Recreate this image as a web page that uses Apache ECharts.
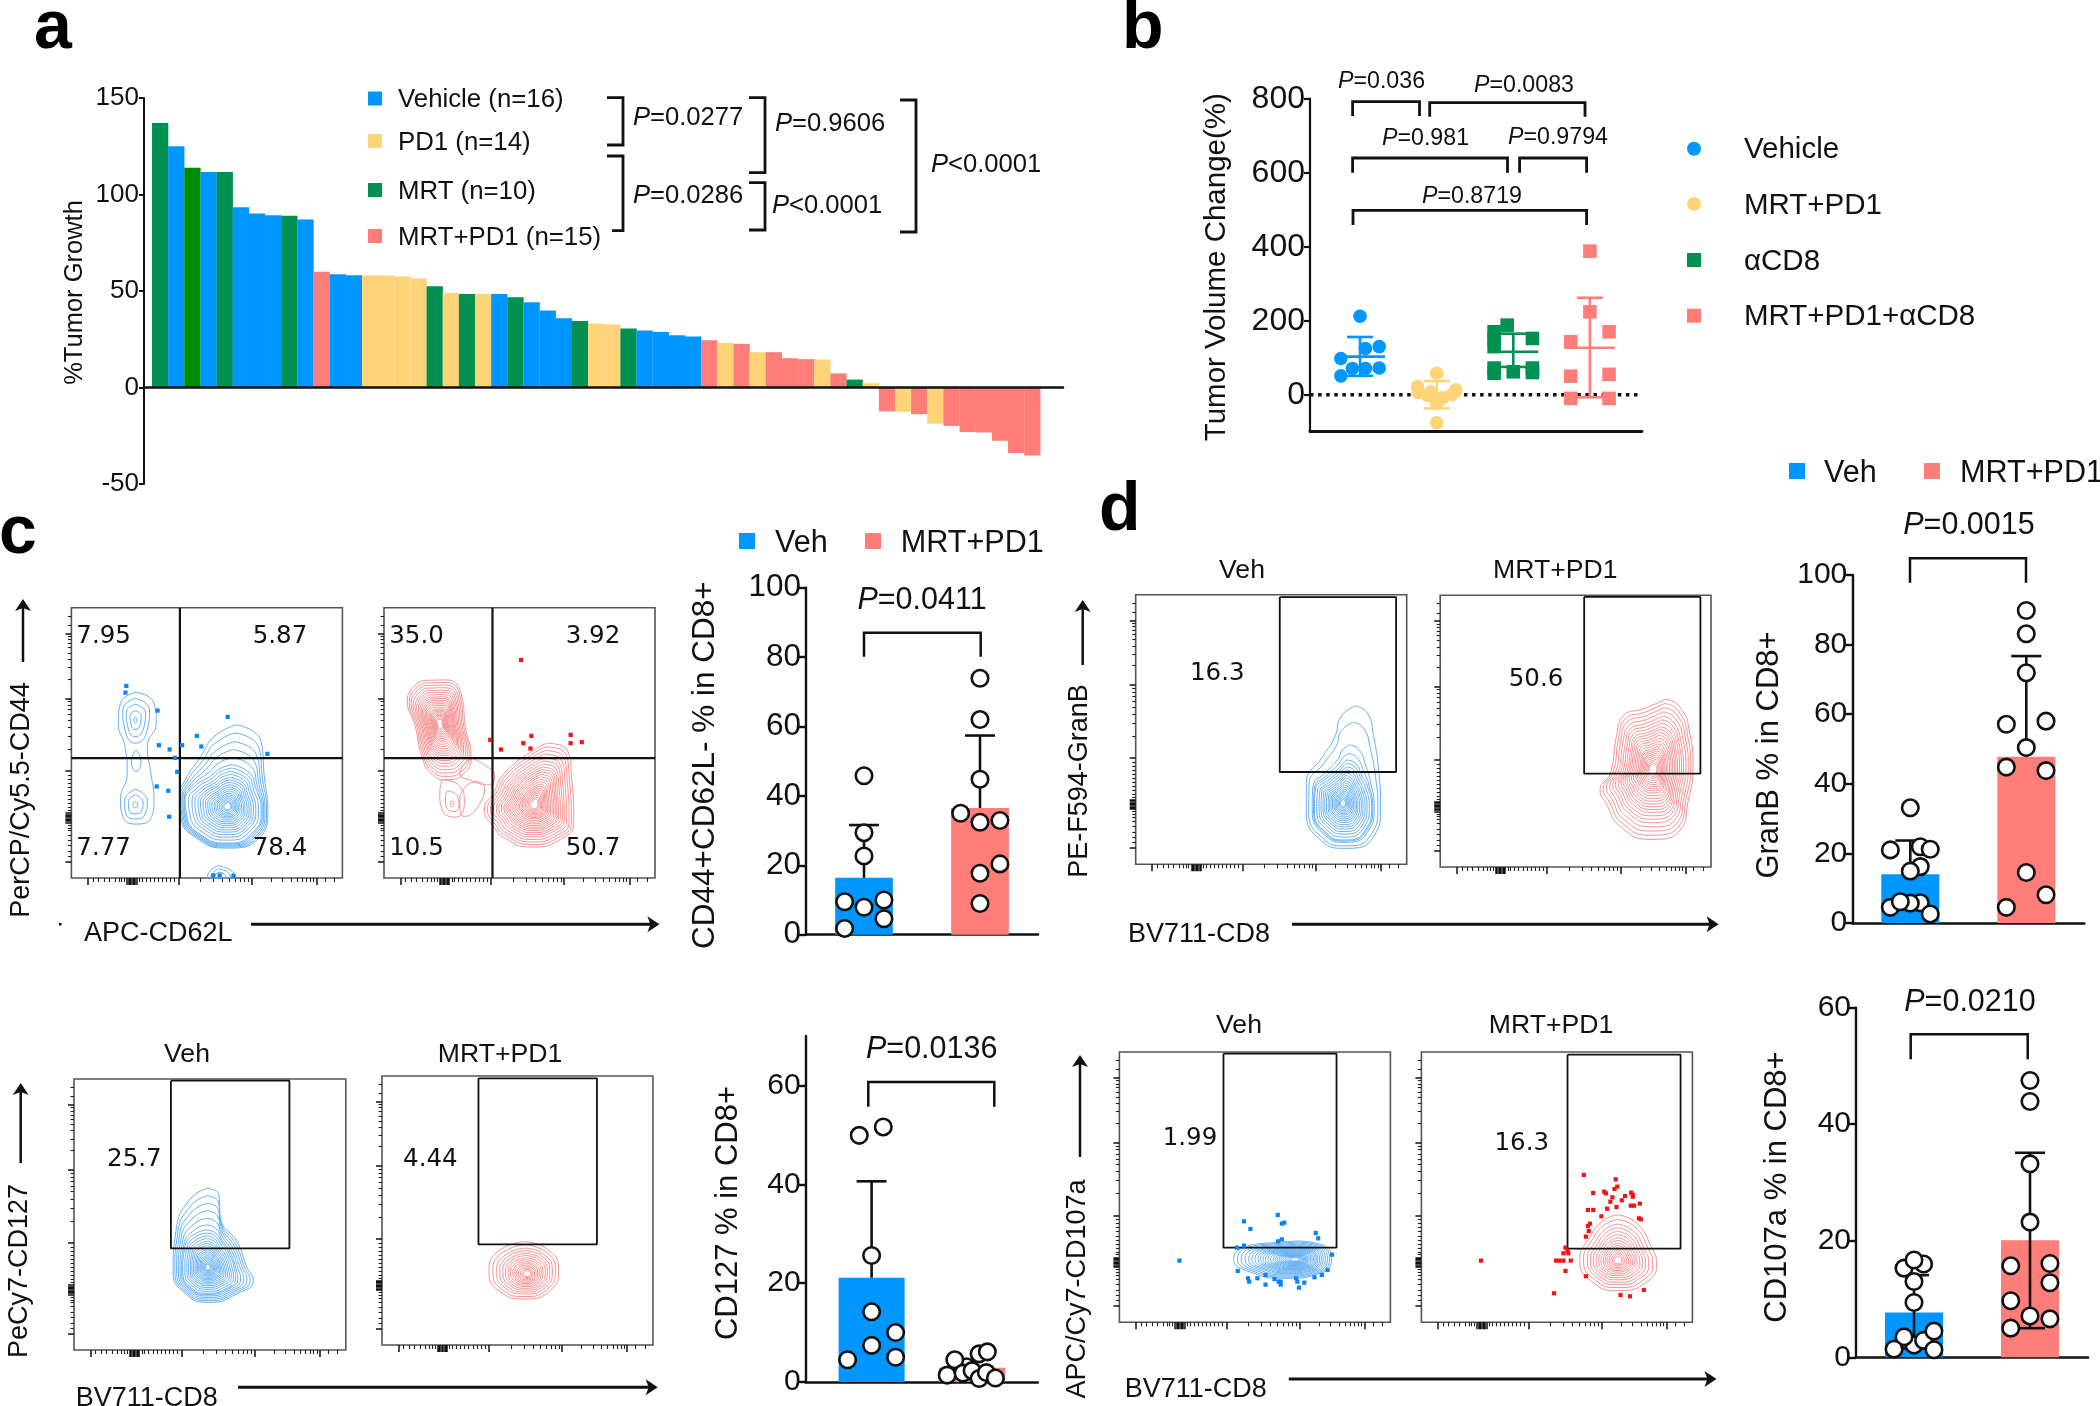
<!DOCTYPE html>
<html><head><meta charset="utf-8">
<style>html,body{margin:0;padding:0;background:#fff}#c{width:2100px;height:1406px}</style>
<script src="https://cdn.jsdelivr.net/npm/echarts@6/dist/echarts.min.js"></script>
</head><body><div id="c"></div>
<script>
// ---------- panel a ----------
const tumorGrowth = [137,125,113.8,111.6,111.6,93.4,90.2,89.3,89,87,60,58.7,58.2,58.2,58,57.5,56.5,52.5,49,48.4,48.4,48.4,46.8,44.2,39.9,35.9,34.4,33.2,32.6,30.6,29.5,28.8,27.1,26.4,24.5,23.1,22.6,18.3,18.3,15.2,14.7,14.5,7.3,4.1,2.2,-12.4,-12.6,-13.8,-18.8,-19.9,-23.1,-23.3,-27.6,-34,-35.2];
const tumorGroup = ['M','V','D','V','M','V','V','V','M','V','R','V','V','P','P','P','P','M','P','M','P','V','M','V','V','V','M','P','P','M','V','V','V','V','R','P','R','P','R','R','R','P','R','M','P','R','P','R','P','R','R','R','R','R','R'];
const groupColor = {V:'#0096FF',P:'#FFD479',M:'#009051',D:'#018C00',R:'#FF7E79'};
// ---------- panel b : [x position in group, value] ----------
const volVehicle = [[1,212],[1.25,130],[1.07,125],[.75,98],[.9,71],[1.07,71],[1.25,72],[.75,51]];
const volMrtPd1 = [[2,58],[1.75,22],[1.76,6],[2.25,13],[2.2,0],[1.88,-2],[1.92,8],[2.08,-8],[2,-23],[2,-76]];
const volCd8 = [[2.92,188],[2.75,170],[3.25,152],[2.75,150],[2.75,130],[2.75,72],[3,62],[3.25,72],[3.25,60],[2.75,58]];
const volMrtPd1Cd8 = [[4,388],[4,224],[4.25,170],[3.75,143],[4.25,55],[3.75,50],[3.75,-10],[4.25,-10]];
// [x, low, high, mean]
const volStats = [[1,51,156,103],[2,-37,37,2],[3,75,165,116],[4,-7,262,127]];
// ---------- dot + bar panels ----------
const cd44Veh = [[1,45.8],[1,29.4],[1,22.7],[.833,9.5],[1,7.9],[1.172,10],[1.172,4.6],[.833,1.8]];
const cd44Mrt = [[2,73.9],[2,62],[2,44.8],[1.833,35],[2,32.4],[2.172,32.9],[2.172,20.4],[2,17.7],[2,9]];
const cd44Means = [16.4,36.5];
const cd44Errors = [[1,null,31.6],[2,null,57.4]];
const cd127Veh = [[.877,49.9],[1.116,51.6],[1,25.6],[1,14.2],[1.239,10],[1,7.4],[1.239,5],[.761,4.5]];
const cd127Mrt = [[1.944,3.1],[1.828,4.5],[2.07,5.7],[2.152,6.1],[1.752,1.4],[1.91,1.8],[2,2.3],[2.07,.7],[2.142,1.9],[2.232,.8]];
const cd127Means = [21.1,2.9];
const cd127Errors = [[1,null,40.6]];
const granBVeh = [[1,33.1],[.828,21],[1.086,21.9],[1.172,21.2],[1.086,16.2],[1,14.9],[.828,4.5],[1.086,5.8],[1,5.7],[.914,6.1],[1.172,2.6]];
const granBMrt = [[2,89.8],[2,83.1],[2,71.9],[1.828,57.1],[2.17,58],[2,50.4],[1.828,44.8],[2.17,43.8],[2,14.5],[2.17,8.1],[1.828,4.5]];
const granBMeans = [14,47.8];
const granBErrors = [[1,null,23.7],[2,null,76.7]];
const cd107Veh = [[.914,15.3],[1.083,16],[1,16.7],[1,13],[1,9.4],[1,2.1],[1.083,2.9],[.914,3.5],[1.172,4.5],[.828,1.4],[1.172,1.3]];
const cd107Mrt = [[2,47.5],[2,43.9],[2,33.2],[2,23.2],[1.834,15.7],[2.172,16.1],[2.172,12.8],[1.834,9.7],[2.172,6.6],[1.834,5],[2,7.1]];
const cd107Means = [7.7,20.1];
const cd107Errors = [[1,1.5,14.1],[2,5,35.1]];
// ---------- flow plots: all coordinates below are read-off units of each plot's own axes ----------
// Each blob is one contour outline (optionally a traced core outline too) plus its centre;
// the inner contours are approximated from those outlines with the ring-spacing lists below, judged by eye.
const denseLevels = [1,.94,.88,.82,.76,.71,.66,.61,.57,.53,.49,.45,.41,.37,.33,.3,.27,.24,.21,.18,.15,.12,.09];
const coreLevels = [1,.92,.84,.77,.7,.64,.58,.52,.47,.42,.37,.32,.28,.24,.2,.16,.12,.09];
const midLevels = [1,.9,.8,.72,.64,.57,.5,.44,.38,.33,.28,.23,.18,.14,.1];
const lobeLevels = [1,.72,.42,.12];
const blobCtl = {outline:[[305,547],[345,580],[350,640],[330,710],[338,790],[345,870],[340,920],[305,943],[275,920],[270,870],[285,790],[280,710],[265,640],[270,580]],center:[305,740],levels:[1]};
const blobCtlUpper = {outline:[[303,565],[335,600],[330,660],[303,700],[280,660],[275,600]],center:[303,630],levels:lobeLevels};
const blobCtlMid = {outline:[[305,720],[316,755],[305,785],[294,755]],center:[305,755],levels:[1]};
const blobCtlLower = {outline:[[303,830],[335,870],[330,915],[303,935],[278,915],[275,870]],center:[303,885],levels:[.85,.55,.18]};
const blobCtlMain = {outline:[[530,645],[585,695],[592,800],[600,900],[580,985],[510,1015],[440,985],[405,920],[402,860],[415,810],[450,740],[480,680]],
 core:[[520,765],[560,790],[572,830],[585,900],[565,970],[510,1000],[450,975],[418,915],[415,870],[435,830],[470,800],[495,775]],tail:[0,.2,.42,.62,.82],center:[510,890],levels:coreLevels};
const blobCtlBottom = {outline:[[490,1068],[520,1085],[527,1108],[463,1108],[470,1085]],center:[492,1100],levels:[1,.7,.4]};
const dotsCtl = [[283,528],[281,548],[353,602],[510,621],[441,678],[356,706],[380,719],[408,706],[451,710],[599,732],[392,744],[397,786],[351,830],[377,843],[379,921],[478,1097],[492,1097],[523,1098]];
const blobCtrUpper = {outline:[[945,512],[1000,510],[1035,565],[1042,650],[1055,740],[1040,790],[1000,810],[965,790],[945,740],[930,650],[912,570]],center:[985,640],levels:denseLevels};
const blobCtrLobe = {outline:[[990,810],[1030,830],[1040,880],[1020,922],[990,900],[985,850]],center:[1013,885],levels:[1,.55,.15]};
const blobCtrLoop = {outline:[[1065,815],[1085,830],[1075,880],[1040,920],[1030,880],[1040,835]],center:[1058,865],levels:[1]};
const blobCtrLink = {outline:[[1055,745],[1085,765],[1108,800],[1095,825],[1060,815],[1030,790]],center:[1065,785],levels:[1]};
const blobCtrMain = {outline:[[1225,700],[1270,720],[1280,800],[1285,940],[1260,985],[1190,1012],[1130,985],[1105,950],[1085,900],[1105,850],[1130,790],[1190,725]],center:[1197,885],levels:denseLevels};
const dotsCtr = [[1167,450],[1098,690],[1122,719],[1172,700],[1190,678],[1188,716],[1278,675],[1278,700],[1303,697]];
const blobCbl = {outline:[[470,565],[497,585],[500,650],[540,730],[560,800],[575,840],[540,880],[475,907],[420,880],[393,810],[400,690],[430,600]],
 core:[[470,690],[490,700],[505,730],[520,760],[532,805],[535,835],[515,865],[472,880],[435,865],[415,810],[420,740],[445,700]],tail:[0,.18,.36,.54,.72,.88],center:[472,803],levels:coreLevels};
const blobCbr = {outline:[[1190,725],[1240,745],[1268,810],[1250,870],[1190,897],[1135,875],[1110,815],[1130,755]],center:[1197,822],levels:midLevels};
const blobDtl = {outline:[[652,558],[680,580],[695,650],[708,760],[712,860],[695,950],[625,985],[565,960],[530,870],[530,790],[570,710],[600,650],[615,590]],
 core:[[630,720],[650,730],[668,770],[680,800],[690,860],[675,930],[625,960],[580,940],[550,870],[552,810],[585,770],[610,745],[620,730]],tail:[0,.3,.72,.88],center:[620,850],levels:coreLevels};
const blobDtr = {outline:[[1410,538],[1445,560],[1470,640],[1478,740],[1465,850],[1450,925],[1375,958],[1300,920],[1265,850],[1250,810],[1275,760],[1290,650],[1305,590],[1360,565]],center:[1380,750],levels:denseLevels};
const blobDbl = {outline:[[510,783],[570,795],[592,835],[565,880],[480,895],[390,875],[352,838],[385,798],[450,788]],center:[505,838],levels:denseLevels};
const dotsDbl = [[219,842],[377,724],[393,747],[460,705],[470,731],[476,728],[553,759],[559,775],[470,778],[461,784],[377,797],[360,803],[593,824],[362,873],[387,895],[390,905],[410,895],[430,885],[430,914],[452,897],[462,905],[467,905],[467,914],[505,895],[508,905],[512,923],[525,908],[550,892],[568,885],[582,870]];
const blobDbr = {outline:[[1295,705],[1340,730],[1375,800],[1388,850],[1370,900],[1295,932],[1230,905],[1200,840],[1225,770],[1260,720]],center:[1293,842],levels:midLevels};
const dotsDbr = [[958,842],[1210,585],[1288,598],[1292,620],[1285,627],[1233,639],[1260,635],[1264,640],[1280,652],[1311,648],[1326,638],[1330,645],[1330,650],[1275,665],[1303,661],[1347,671],[1290,681],[1325,677],[1333,677],[1220,690],[1233,690],[1267,686],[1253,709],[1345,715],[1350,718],[1225,731],[1220,738],[1222,753],[1215,770],[1165,803],[1170,812],[1160,820],[1172,820],[1142,842],[1150,842],[1160,842],[1178,842],[1165,873],[1215,889],[1137,940],[1300,945],[1323,949],[1357,930]];
// biexponential tick positions, percent of each flow axis
const flowMajorTicks = [6,39.5,66.5,90.5,20.5,21,21.5,22,22.5,23,23.5,24];
const flowMinorTicks = [8,10,12,14,16,17.5,18.5,19.5,25,26,27.5,29,30.5,32,33.5,35,36.5,38,47.6,52.4,55.8,58.4,60.5,62.3,63.9,65.3,73.7,77.9,81,83.3,85.2,86.8,88.2,89.4,93.5,97];

const FONT='"Liberation Sans",Arial,sans-serif';
const BLUE='#0096FF',RED='#FF7E79',YEL='#FFD479',GRN='#009051';
const grids=[],xAxes=[],yAxes=[],series=[],gfx=[];

function text(t,x,y,size,o={}){gfx.push({type:'text',x:x+(o.rot?1.5:0),y:y+(o.rot||o.va?0:1.5),rotation:o.rot||0,silent:true,z:50,style:{text:t,fill:o.fill||'#111',font:(o.weight?o.weight+' ':'')+size+'px '+(o.family||FONT),textAlign:o.align||'left',textVerticalAlign:o.va||'middle',rich:o.rich}});}
function pText(rest,x,y,size,align){text('{i|P}'+rest,x,y,size,{align:align||'left',rich:{i:{fontStyle:'italic',fontSize:size,fontFamily:'Liberation Sans',fill:'#111'}}});}
function poly(pts,w,c){gfx.push({type:'polyline',silent:true,z:50,shape:{points:pts},style:{stroke:c||'#111',lineWidth:w||2.5,fill:null,lineJoin:'miter'}});}
function bracketUp(x0,x1,top,bot,w){poly([[x0,bot],[x0,top],[x1,top],[x1,bot]],w||2.5);}
function bracketR(x0,x1,top,bot,x2){poly([[x0,top],[x1,top],[x1,bot],[x2===undefined?x0:x2,bot]],2.8);}
function arrowH(x0,x1,y){poly([[x0,y],[x1-8,y]],3);gfx.push({type:'polygon',silent:true,z:50,shape:{points:[[x1,y],[x1-12,y-8],[x1-9,y],[x1-12,y+8]]},style:{fill:'#111'}});}
function arrowV(x,y0,y1){poly([[x,y1],[x,y0+8]],2.5);gfx.push({type:'polygon',silent:true,z:50,shape:{points:[[x,y0],[x-8,y0+12],[x,y0+9],[x+8,y0+12]]},style:{fill:'#111'}});}
function sq(x,y,s,c){gfx.push({type:'rect',silent:true,z:50,shape:{x:x,y:y,width:s,height:s},style:{fill:c}});}

function errorSeries(gi,data,colorFn,capPx,width,meanPx,z){
 series.push({type:'custom',xAxisIndex:gi.x,yAxisIndex:gi.y,z:z||3,silent:true,animation:false,clip:false,data,
  encode:{x:0,y:[1,2]},
  renderItem(p,api){
   const x=api.value(0),hi=api.coord([x,api.value(2)]);
   const low=api.value(1);const hasLow=!isNaN(low);
   const mean=api.value(3);
   const bottomVal=hasLow?low:(!isNaN(mean)?mean:api.value(2));
   const lo=api.coord([x,bottomVal]);
   const c=colorFn(p.dataIndex),st={stroke:c,lineWidth:width,fill:null};
   const kids=[{type:'line',shape:{x1:hi[0],y1:hi[1],x2:lo[0],y2:lo[1]},style:st},
    {type:'line',shape:{x1:hi[0]-capPx,y1:hi[1],x2:hi[0]+capPx,y2:hi[1]},style:st}];
   if(hasLow)kids.push({type:'line',shape:{x1:lo[0]-capPx,y1:lo[1],x2:lo[0]+capPx,y2:lo[1]},style:st});
   if(meanPx){const m=api.coord([x,mean]);kids.push({type:'line',shape:{x1:m[0]-meanPx,y1:m[1],x2:m[0]+meanPx,y2:m[1]},style:st});}
   return {type:'group',children:kids};
  }});
}

// ---------- panel a chart ----------
(function(){
 grids.push({left:144,top:98,width:919,height:386});
 xAxes.push({gridIndex:0,type:'value',min:0,max:56.9,splitLine:{show:false},axisLabel:{show:false},axisTick:{show:false},axisLine:{show:true,onZero:true,lineStyle:{color:'#111',width:2.5}},z:5});
 yAxes.push({gridIndex:0,type:'value',min:-50,max:150,interval:50,name:'%Tumor Growth',nameLocation:'middle',nameGap:56,nameTextStyle:{fontFamily:FONT,fontSize:25.5,color:'#111',padding:[0,3,0,0]},splitLine:{show:false},axisLabel:{fontFamily:FONT,fontSize:26,color:'#111',margin:5,padding:[3,0,0,0]},axisTick:{length:5,lineStyle:{color:'#111',width:2}},axisLine:{show:true,onZero:false,lineStyle:{color:'#111',width:2}}});
 series.push({type:'bar',xAxisIndex:0,yAxisIndex:0,barWidth:16.3,animation:false,silent:true,
  data:tumorGrowth.map((v,i)=>({value:[i+1,v],itemStyle:{color:groupColor[tumorGroup[i]]}}))});
 [['Vehicle (n=16)',BLUE,98.5],['PD1 (n=14)',YEL,141],['MRT (n=10)',GRN,190],['MRT+PD1 (n=15)',RED,236]].forEach(r=>{sq(368,r[2]-7,14,r[1]);text(r[0],398,r[2],25.8);});
 bracketR(607,623,97.7,145);bracketR(607,623,156,230.7,612);bracketR(749,765,97.7,172.7);bracketR(749,765,182.7,230);bracketR(900,916,100,232);
 pText('=0.0277',633,116.7,25.6);pText('=0.0286',633,194,25.6);pText('=0.9606',775,122,25.6);pText('<0.0001',772,204,25.6);pText('<0.0001',931,163,25.6);
})();

// ---------- panel b chart ----------
(function(){
 const g=grids.length;
 grids.push({left:1310,top:98.7,width:332,height:333});
 xAxes.push({gridIndex:g,type:'value',min:.347,max:4.68,splitLine:{show:false},axisLabel:{show:false},axisTick:{show:false},axisLine:{show:true,onZero:false,lineStyle:{color:'#111',width:2.8}}});
 yAxes.push({gridIndex:g,type:'value',min:-100,max:800,name:'Tumor Volume Change(%)',nameLocation:'middle',nameGap:78,nameTextStyle:{fontFamily:FONT,fontSize:29.5,color:'#111',padding:[0,4,0,0]},splitLine:{show:false},
  axisLabel:{fontFamily:FONT,fontSize:32,color:'#111',margin:5,padding:[3,0,0,0],customValues:[0,200,400,600,800]},
  axisTick:{length:6,lineStyle:{color:'#111',width:2.2},customValues:[0,200,400,600,800]},axisLine:{show:true,onZero:false,lineStyle:{color:'#111',width:2.2}}});
 series.push({type:'line',xAxisIndex:g,yAxisIndex:g,data:[[.347,0],[4.68,0]],showSymbol:false,symbol:'none',silent:true,animation:false,z:1,lineStyle:{color:'#111',width:3.5,type:[3.5,4.6]}});
 const sc=(d,sym,c)=>series.push({type:'scatter',xAxisIndex:g,yAxisIndex:g,data:d,symbol:sym,symbolSize:13.6,itemStyle:{color:c,opacity:1},silent:true,animation:false,z:3});
 sc(volVehicle,'circle',BLUE);sc(volMrtPd1,'circle',YEL);sc(volCd8,'rect',GRN);sc(volMrtPd1Cd8,'rect',RED);
 const cs=[BLUE,YEL,GRN,RED];
 errorSeries({x:g,y:g},volStats,i=>cs[i],13,2.6,25,4);
 [[1352.6,1419.5,101.7,116],[1429.7,1585,102.7,116.7],[1352.6,1507.5,158,172.7],[1519.6,1586.6,158,172.7],[1353,1586.6,210.3,225]].forEach(b=>bracketUp(b[0],b[1],b[2],b[3],2.8));
 pText('=0.036',1338,80,23.2);pText('=0.0083',1474,84,23.2);pText('=0.981',1382,136.7,23.2);pText('=0.9794',1508,136,23.2);pText('=0.8719',1422,195,23.2);
 gfx.push({type:'circle',silent:true,z:50,shape:{cx:1694,cy:148.7,r:7},style:{fill:BLUE}});
 gfx.push({type:'circle',silent:true,z:50,shape:{cx:1694,cy:204,r:7},style:{fill:YEL}});
 sq(1687,253,14,GRN);sq(1687,308.7,14,RED);
 [['Vehicle',148.7],['MRT+PD1',204],['αCD8',260],['MRT+PD1+αCD8',315.7]].forEach(r=>text(r[0],1744,r[1],29.5));
})();

// ---------- bar + dot panels ----------
function barPanel(o){
 const g=grids.length;
 grids.push({left:o.left,top:o.top,width:o.width,height:o.height});
 xAxes.push({gridIndex:g,type:'value',min:o.xMin,max:o.xMax,splitLine:{show:false},axisLabel:{show:false},axisTick:{show:false},axisLine:{show:true,onZero:false,lineStyle:{color:'#111',width:2.6}}});
 yAxes.push({gridIndex:g,type:'value',min:0,max:o.yMax,name:o.title,nameLocation:'middle',nameGap:o.nameGap,nameTextStyle:{fontFamily:FONT,fontSize:o.titleSize||31,color:'#111',padding:[0,o.shift||0,0,0]},splitLine:{show:false},
  axisLabel:{fontFamily:FONT,fontSize:o.tickSize||30,color:'#111',margin:5,padding:[3,0,0,0],customValues:o.ticks},
  axisTick:{length:7,lineStyle:{color:'#111',width:2.4},customValues:o.ticks},axisLine:{show:true,onZero:false,lineStyle:{color:'#111',width:2.4}}});
 series.push({type:'bar',xAxisIndex:g,yAxisIndex:g,barWidth:o.barWidth,animation:false,silent:true,z:2,
  data:o.means.map((v,i)=>({value:[i+1,v],itemStyle:{color:i?RED:BLUE}}))});
 errorSeries({x:g,y:g},o.errors.map(e=>[e[0],e[1]===null?NaN:e[1],e[2],o.means[e[0]-1]]),()=>'#111',15,2.6,0,3);
 [o.a,o.b].forEach(d=>series.push({type:'scatter',xAxisIndex:g,yAxisIndex:g,data:d,symbol:'circle',symbolSize:o.dot||16.5,clip:false,itemStyle:{color:'#fff',borderColor:'#111',borderWidth:2.6,opacity:1},silent:true,animation:false,z:4}));
}
barPanel({left:806,top:587.7,width:232,height:347,xMin:.5,xMax:2.5,yMax:100,ticks:[0,20,40,60,80,100],title:'CD44+CD62L- % in CD8+',titleSize:31.5,tickSize:31.5,nameGap:85,shift:8,barWidth:57.7,means:cd44Means,errors:cd44Errors,a:cd44Veh,b:cd44Mrt});
barPanel({left:805.7,top:1036,width:232,height:346,xMin:.344,xMax:2.653,yMax:70,ticks:[0,20,40,60],title:'CD127 % in CD8+',nameGap:62,shift:8,barWidth:66,means:cd127Means,errors:cd127Errors,a:cd127Veh,b:cd127Mrt});
barPanel({left:1852.3,top:575,width:232,height:348,xMin:.5,xMax:2.5,yMax:100,ticks:[0,20,40,60,80,100],title:'GranB % in CD8+',nameGap:67,shift:12,barWidth:58,means:granBMeans,errors:granBErrors,a:granBVeh,b:granBMrt});
barPanel({left:1856,top:1007.7,width:232,height:349.6,xMin:.5,xMax:2.5,yMax:60,ticks:[0,20,40,60],title:'CD107a % in CD8+',nameGap:63,shift:9,barWidth:58,means:cd107Means,errors:cd107Errors,a:cd107Veh,b:cd107Mrt});
bracketUp(864,980.7,632.7,656.7);pText('=0.0411',922,599,30.5,'center');
bracketUp(868.3,994.3,1082,1106.7);pText('=0.0136',931.7,1048,30.5,'center');
bracketUp(1910,2026,558.3,582.7);pText('=0.0015',1969,524,30.5,'center');
bracketUp(1910.7,2027.7,1034.3,1059.3);pText('=0.0210',1970,1000.7,30.5,'center');
sq(739,533,16,BLUE);text('Veh',775,541.7,30.6);sq(865,533,16,RED);text('MRT+PD1',900.7,541.7,30.6);
sq(1789,463,16,BLUE);text('Veh',1824,471.7,30.6);sq(1924,463,16,RED);text('MRT+PD1',1960,471.7,30.6);

// ---------- flow plots ----------
function flow(o){
 const g=grids.length;
 grids.push({left:o.left,top:o.top,width:o.width,height:o.height,show:true,borderColor:'#555',borderWidth:1.6,backgroundColor:'transparent'});
 const xv=f=>o.x[0]+f/100*(o.x[1]-o.x[0]), yv=f=>o.y[1]-f/100*(o.y[1]-o.y[0]);
 const base={splitLine:{show:false},axisLabel:{show:false},axisLine:{show:false,onZero:false}};
 const xi=xAxes.length,yi=yAxes.length;
 xAxes.push({...base,gridIndex:g,type:'value',position:'bottom',min:o.x[0],max:o.x[1],axisTick:{show:true,length:4,lineStyle:{color:'#222',width:1.1},customValues:flowMinorTicks.map(xv)}});
 xAxes.push({...base,gridIndex:g,type:'value',position:'bottom',min:o.x[0],max:o.x[1],axisTick:{show:true,length:7,lineStyle:{color:'#111',width:1.5},customValues:flowMajorTicks.map(xv)}});
 yAxes.push({...base,gridIndex:g,type:'value',position:'left',inverse:true,min:o.y[0],max:o.y[1],axisTick:{show:true,length:3.5,lineStyle:{color:'#222',width:1.1},customValues:flowMinorTicks.map(yv)}});
 yAxes.push({...base,gridIndex:g,type:'value',position:'left',inverse:true,min:o.y[0],max:o.y[1],axisTick:{show:true,length:6,lineStyle:{color:'#111',width:1.5},customValues:flowMajorTicks.map(yv)}});
 const drawRing=ring=>{ring=ring.slice();ring.push(ring[0]);
  series.push({type:'line',xAxisIndex:xi,yAxisIndex:yi,data:ring,smooth:.55,symbol:'none',showSymbol:false,silent:true,animation:false,z:2,lineStyle:{color:o.line,width:1,opacity:.95}});};
 (o.blobs||[]).forEach(b=>{
  (b.tail||[]).forEach(t=>drawRing(b.outline.map((p,i)=>[p[0]+(b.core[i][0]-p[0])*t,p[1]+(b.core[i][1]-p[1])*t])));
  const shape=b.core||b.outline;
  b.levels.forEach(f=>drawRing(shape.map(p=>[b.center[0]+(p[0]-b.center[0])*f,b.center[1]+(p[1]-b.center[1])*f])));
 });
 (o.lines||[]).forEach(l=>series.push({type:'line',xAxisIndex:xi,yAxisIndex:yi,data:l,symbol:'none',showSymbol:false,silent:true,animation:false,z:3,clip:false,lineStyle:{color:'#111',width:o.lineW||1.8}}));
 if(o.dots)series.push({type:'scatter',xAxisIndex:xi,yAxisIndex:yi,data:o.dots,symbol:'rect',symbolSize:4.2,itemStyle:{color:o.dot,opacity:1},silent:true,animation:false,z:4});
 (o.labels||[]).forEach(t=>text(t[0],t[1],t[2],24.5,{align:'center',family:'"DejaVu Sans",sans-serif'}));
 if(o.head)text(o.head,o.headX,o.headY,26.6,{align:'center'});
}
const LB='#5EACF0',LR='#F28C8C';
const rect=(x0,x1,y0,y1)=>[[x0,y0],[x1,y0],[x1,y1],[x0,y1],[x0,y0]];
flow({left:71.4,top:607.7,width:271,height:270.3,x:[160,767],y:[293,1105],line:LB,blobs:[blobCtl,blobCtlUpper,blobCtlMid,blobCtlLower,blobCtlMain,blobCtlBottom],dots:dotsCtl,dot:'#0A84F5',lineW:2.2,
 lines:[[[403,293],[403,1105]],[[160,745],[767,745]]],labels:[['7.95',103.6,635],['5.87',280,635],['7.77',103.6,847],['78.4',280,847]]});
flow({left:384,top:607.7,width:271,height:270.3,x:[860,1467],y:[293,1105],line:LR,blobs:[blobCtrUpper,blobCtrLobe,blobCtrLoop,blobCtrLink,blobCtrMain],dots:dotsCtr,dot:'#F01414',lineW:2.2,
 lines:[[[1103,293],[1103,1105]],[[860,745],[1467,745]]],labels:[['35.0',416.5,635],['3.92',593,635],['10.5',416.5,847],['50.7',593,847]]});
flow({left:74,top:1079,width:271.8,height:271,x:[168,785],y:[237,1050],line:LB,blobs:[blobCbl],lines:[rect(388,657,242,745)],labels:[['25.7',134.4,1158]],head:'Veh',headX:187,headY:1053});
flow({left:382,top:1076,width:270.9,height:269,x:[867,1482],y:[228,1035],line:LR,blobs:[blobCbr],lines:[rect(1086,1355,235,733)],labels:[['4.44',430.4,1157.7]],head:'MRT+PD1',headX:500,headY:1053});
flow({left:1135.7,top:594.7,width:271,height:269.6,x:[112,776],y:[224,1033],line:LB,blobs:[blobDtl],lines:[rect(465,750,231,756)],labels:[['16.3',1217.3,671.7]],head:'Veh',headX:1242,headY:569.3});
flow({left:1440.2,top:595.3,width:270.8,height:271.7,x:[858,1522],y:[226,1041],line:LR,blobs:[blobDtr],lines:[rect(1211,1496,231,761)],labels:[['50.6',1536,678]],head:'MRT+PD1',headX:1555.3,headY:569});
flow({left:1119.4,top:1052,width:271,height:270.3,x:[72,736],y:[216,1027],line:LB,blobs:[blobDbl],dots:dotsDbl,dot:'#0A84F5',lines:[rect(327,604,221,803)],labels:[['1.99',1190,1136.7]],head:'Veh',headX:1239,headY:1024.3});
flow({left:1421.4,top:1052,width:271,height:270.3,x:[812,1476],y:[216,1027],line:LR,blobs:[blobDbr],dots:dotsDbr,dot:'#F01414',lines:[rect(1170,1447,224,806)],labels:[['16.3',1521.8,1142.3]],head:'MRT+PD1',headX:1551,headY:1024.3});

// flow axis captions
const vt=(t,x,y)=>text(t,x,y,27,{rot:Math.PI/2,align:'center'});
vt('PerCP/Cy5.5-CD44',20,800);arrowV(23,599,662);
vt('PeCy7-CD127',17.6,1271);arrowV(20.7,1083,1163);
vt('PE-F594-GranB',1078,781);arrowV(1082.7,600,665);
vt('APC/Cy7-CD107a',1076,1289);arrowV(1080,1055,1157);
text('APC-CD62L',84,931.7,27);arrowH(251,659.4,924.3);
text('BV711-CD8',75.8,1396.7,27);arrowH(238,657.7,1387.3);
text('BV711-CD8',1128,933,27);arrowH(1292,1718.6,924.3);
text('BV711-CD8',1124.7,1388,27);arrowH(1288.8,1716.5,1379);
sq(59,923,2.5,'#111');
// panel letters
[['a',34,63],['b',1122,63],['c',-1,568],['d',1099,545]].forEach(l=>text(l[0],l[1],l[2],68,{weight:'bold',va:'bottom',fill:'#000'}));

const chart=echarts.init(document.getElementById('c'),null,{renderer:'canvas',width:2100,height:1406});
chart.setOption({animation:false,backgroundColor:'#fff',grid:grids,xAxis:xAxes,yAxis:yAxes,series,graphic:{elements:gfx}});
</script></body></html>
